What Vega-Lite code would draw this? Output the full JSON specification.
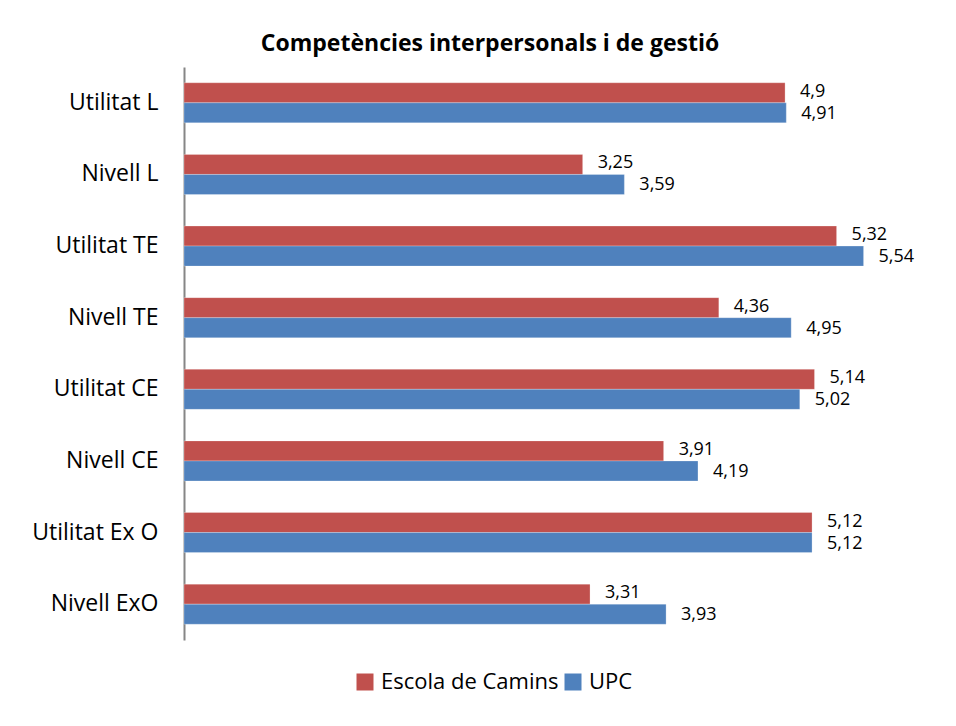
{
  "$schema": "https://vega.github.io/schema/vega-lite/v6.json",
  "width": 736,
  "height": 573,
  "autosize": {"type": "none"},
  "padding": {"left": 184, "top": 67, "right": 36, "bottom": 86},
  "background": "white",
  "config": {
    "locale": {"number": {"decimal": ",", "thousands": ".", "grouping": [3], "currency": ["", " €"]}},
    "font": "Open Sans",
    "view": {"stroke": null}
  },
  "title": {
    "text": "Competències interpersonals i de gestió",
    "font": "Open Sans",
    "fontSize": 23,
    "fontWeight": "bold",
    "color": "#000000",
    "anchor": "middle",
    "dx": -62,
    "offset": 11
  },
  "data": {
    "values": [
      {"categoria": "Utilitat L", "serie": "Escola de Camins", "valor": 4.9},
      {"categoria": "Utilitat L", "serie": "UPC", "valor": 4.91},
      {"categoria": "Nivell L", "serie": "Escola de Camins", "valor": 3.25},
      {"categoria": "Nivell L", "serie": "UPC", "valor": 3.59},
      {"categoria": "Utilitat TE", "serie": "Escola de Camins", "valor": 5.32},
      {"categoria": "Utilitat TE", "serie": "UPC", "valor": 5.54},
      {"categoria": "Nivell TE", "serie": "Escola de Camins", "valor": 4.36},
      {"categoria": "Nivell TE", "serie": "UPC", "valor": 4.95},
      {"categoria": "Utilitat CE", "serie": "Escola de Camins", "valor": 5.14},
      {"categoria": "Utilitat CE", "serie": "UPC", "valor": 5.02},
      {"categoria": "Nivell CE", "serie": "Escola de Camins", "valor": 3.91},
      {"categoria": "Nivell CE", "serie": "UPC", "valor": 4.19},
      {"categoria": "Utilitat Ex O", "serie": "Escola de Camins", "valor": 5.12},
      {"categoria": "Utilitat Ex O", "serie": "UPC", "valor": 5.12},
      {"categoria": "Nivell ExO", "serie": "Escola de Camins", "valor": 3.31},
      {"categoria": "Nivell ExO", "serie": "UPC", "valor": 3.93}
    ]
  },
  "encoding": {
    "y": {
      "field": "categoria",
      "type": "nominal",
      "sort": null,
      "scale": {"paddingInner": 0.44, "paddingOuter": 0.22},
      "axis": {
        "title": null,
        "ticks": false,
        "domainColor": "#868686",
        "domainWidth": 2,
        "labelFont": "Open Sans",
        "labelFontSize": 23,
        "labelColor": "#000000",
        "labelPadding": 26,
        "labelLimit": 0,
        "grid": false
      }
    },
    "x": {
      "field": "valor",
      "type": "quantitative",
      "scale": {"domain": [0, 6], "nice": false},
      "axis": null
    },
    "yOffset": {
      "field": "serie",
      "type": "nominal",
      "sort": ["Escola de Camins", "UPC"]
    }
  },
  "layer": [
    {
      "mark": {"type": "bar", "stroke": "#ffffff", "strokeOpacity": 0.5, "strokeWidth": 0.5},
      "encoding": {
        "color": {
          "field": "serie",
          "type": "nominal",
          "sort": ["Escola de Camins", "UPC"],
          "scale": {"domain": ["Escola de Camins", "UPC"], "range": ["#C0504D", "#4F81BD"]},
          "legend": {
            "title": null,
            "orient": "none",
            "direction": "horizontal",
            "legendX": 170,
            "legendY": 604,
            "symbolType": "square",
            "symbolSize": 289,
            "symbolStrokeWidth": 0,
            "labelFont": "Open Sans",
            "labelFontSize": 22,
            "labelColor": "#000000",
            "labelLimit": 0,
            "columnPadding": 3,
            "labelOffset": 5
          }
        }
      }
    },
    {
      "transform": [{"filter": "datum.serie === 'Escola de Camins'"}],
      "mark": {"type": "text", "align": "left", "baseline": "middle", "dx": 15, "dy": -1, "fontSize": 18, "font": "Open Sans", "color": "#000000"},
      "encoding": {
        "text": {"field": "valor", "type": "quantitative", "format": ".2~f"}
      }
    },
    {
      "transform": [{"filter": "datum.serie === 'UPC'"}],
      "mark": {"type": "text", "align": "left", "baseline": "middle", "dx": 15, "dy": 1, "fontSize": 18, "font": "Open Sans", "color": "#000000"},
      "encoding": {
        "text": {"field": "valor", "type": "quantitative", "format": ".2~f"}
      }
    }
  ]
}
